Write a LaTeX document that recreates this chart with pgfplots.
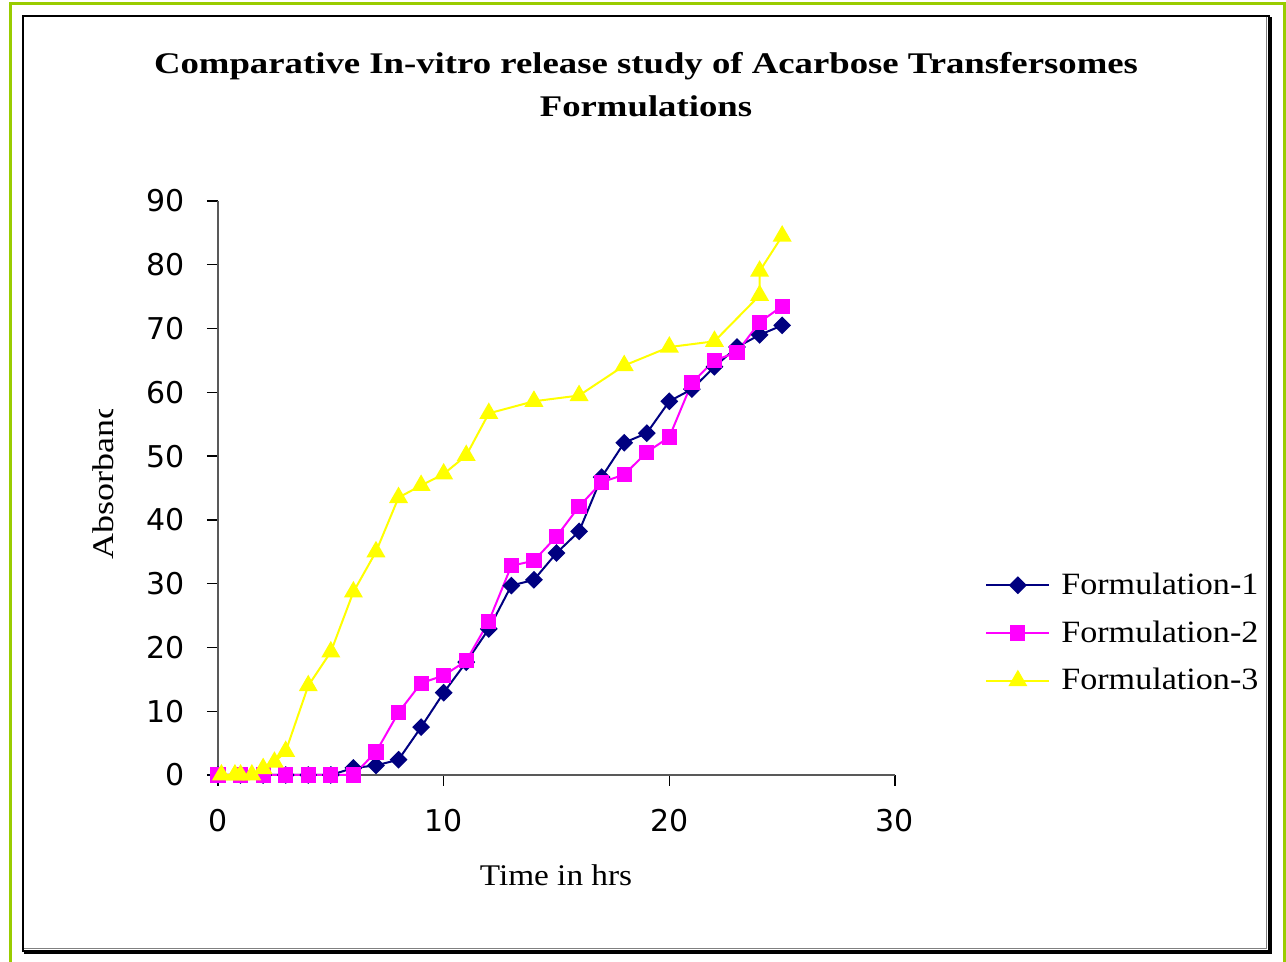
\documentclass[border=0pt]{standalone}
\usepackage{fontspec}
\usepackage{graphicx}
\usepackage{pgfplots}
\pgfplotsset{compat=1.18}
\setmainfont{Liberation Serif}
\newfontfamily\tickfont{DejaVu Sans}
\definecolor{frameGreen}{RGB}{153,204,0}
\definecolor{fNavy}{RGB}{0,0,128}
\definecolor{fMagenta}{RGB}{255,0,255}
\definecolor{fYellow}{RGB}{255,255,0}
\newcommand{\wide}[2][1.2]{\scalebox{#1}[1]{#2}}

\pgfplotstableread{
t   r
0   0
1   0
2   0
3   0
4   0
5   0
6   1.1
7   1.5
8   2.4
9   7.5
10  12.9
11  17.7
12  22.9
13  29.7
14  30.6
15  34.8
16  38.2
17  46.7
18  52.1
19  53.6
20  58.6
21  60.5
22  64.0
23  67.1
24  69.0
25  70.5
}\formA

\pgfplotstableread{
t   r
0   0
1   0
2   0
3   0
4   0
5   0
6   0
7   3.6
8   9.8
9   14.4
10  15.6
11  17.9
12  24.1
13  32.8
14  33.6
15  37.4
16  42.1
17  45.9
18  47.1
19  50.6
20  53.0
21  61.5
22  65.0
23  66.3
24  71.0
25  73.5
}\formB

\pgfplotstableread{
t     r
0.15  0
0.75  0
1     0
1.5   0
2     1.0
2.5   2.0
3     3.7
4     14.0
5     19.3
6     28.7
7     35.0
8     43.5
9     45.4
10    47.2
11    50.1
12    56.7
14    58.6
16    59.5
18    64.2
20    67.1
22    68.0
24    75.2
24    79.0
25    84.5
}\formC

\begin{document}
\begin{tikzpicture}[x=1pt,y=1pt]
\useasboundingbox (0,0) rectangle (643,481);
% outer green border (open at the bottom)
\draw[frameGreen, line width=1.5pt] (5,-3) -- (5,479) -- (642.3,479) -- (642.3,-3);
% chart frame with a shadow on the right and bottom
\draw[black, line width=1.1pt] (11.5,5.5) rectangle (634.5,473);
\draw[gray, line width=0.5pt] (12,6.6) -- (633.4,6.6) -- (633.4,472.5);
\draw[black, line width=1.6pt] (12,4.8) -- (635.3,4.8) -- (635.3,472.5);

\begin{axis}[
  at={(109pt,93.5pt)}, anchor=south west,
  scale only axis, width=338.5pt, height=287pt,
  xmin=0, xmax=30, ymin=0, ymax=90,
  axis x line*=bottom, axis y line*=left,
  axis line style={-, draw=gray!70!black, line width=0.8pt},
  xtick={0,10,20,30}, ytick={0,10,...,90},
  tick align=outside, major tick length=5.5pt,
  tick style={black, line width=0.7pt},
  /pgf/number format/assume math mode=true,
  ticklabel style={font=\tickfont\fontsize{15}{18}\selectfont, inner sep=0pt},
  yticklabel style={anchor=east},
  xticklabel style={anchor=north},
  yticklabel shift=11pt,
  xticklabel shift=11.5pt,
  clip=false,
  legend style={at={(1.1329,0.2474)}, anchor=west, draw=none, fill=none,
    font=\fontsize{15.5}{18}\selectfont, row sep=7.6pt, inner sep=0pt,
    legend cell align=left},
  legend image code/.code={\draw[mark repeat=2, mark phase=2, #1]
    plot coordinates {(0pt,0pt) (15.75pt,0pt) (31.5pt,0pt)};
    \path (35pt,0pt);},
]
\addplot[fNavy, line width=1pt, mark=square*, mark size=2.65pt,
  mark options={rotate=45, solid}] table[x=t, y=r] {\formA};
\addlegendentry{\wide[1.1]{Formulation-1}}
\addplot[fMagenta, line width=1pt, mark=square*, mark size=3.3pt,
  mark options={solid}] table[x=t, y=r] {\formB};
\addlegendentry{\wide[1.1]{Formulation-2}}
\addplot[fYellow, line width=1pt, mark=triangle*, mark size=4.5pt,
  mark options={solid}] table[x=t, y=r] {\formC};
\addlegendentry{\wide[1.1]{Formulation-3}}
\end{axis}

% title
\node[anchor=base, inner sep=0pt, font=\bfseries\fontsize{15}{18}\selectfont]
  at (323,444.3) {\wide[1.225]{Comparative In-vitro release study of Acarbose Transfersomes}};
\node[anchor=base, inner sep=0pt, font=\bfseries\fontsize{15}{18}\selectfont]
  at (323,422.5) {\wide[1.225]{Formulations}};
% x label
\node[anchor=base, inner sep=0pt, font=\fontsize{15}{18}\selectfont]
  at (278,38) {\wide[1.11]{Time in hrs}};
% y label, cut off at the top
\begin{scope}
\clip (30,100) rectangle (70,276);
\node[anchor=base west, rotate=90, inner sep=0pt, font=\fontsize{15}{18}\selectfont]
  at (56.5,201) {\wide{Absorbance}};
\end{scope}
\end{tikzpicture}
\end{document}
